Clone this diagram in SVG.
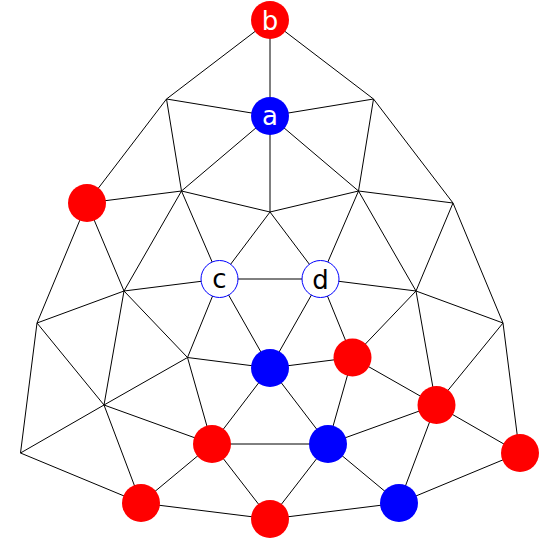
<svg xmlns="http://www.w3.org/2000/svg" width="541" height="541" viewBox="0 0 541 541">
<style>
.e{stroke:#000;stroke-width:1;fill:none}
.r{fill:#ff0000}
.bl{fill:#0000ff}
.w{fill:#fff;stroke:#0000ff;stroke-width:1}
.t{font-family:"DejaVu Sans",sans-serif;font-size:26px;text-anchor:middle}
.tw{fill:#fff}
.tk{fill:#000}
</style>
<rect width="541" height="541" fill="#fff"/>
<g id="connectors" class="e">
<line x1="270" y1="20" x2="166.5" y2="99"/>
<line x1="270" y1="20" x2="270" y2="116"/>
<line x1="270" y1="20" x2="373.5" y2="99"/>
<line x1="166.5" y1="99" x2="270" y2="116"/>
<line x1="166.5" y1="99" x2="181.5" y2="191"/>
<line x1="166.5" y1="99" x2="87" y2="203"/>
<line x1="270" y1="116" x2="373.5" y2="99"/>
<line x1="270" y1="116" x2="181.5" y2="191"/>
<line x1="270" y1="116" x2="270" y2="212"/>
<line x1="270" y1="116" x2="358.5" y2="191"/>
<line x1="373.5" y1="99" x2="358.5" y2="191"/>
<line x1="373.5" y1="99" x2="453" y2="203"/>
<line x1="87" y1="203" x2="181.5" y2="191"/>
<line x1="181.5" y1="191" x2="270" y2="212"/>
<line x1="181.5" y1="191" x2="124" y2="291"/>
<line x1="181.5" y1="191" x2="219.5" y2="279"/>
<line x1="87" y1="203" x2="37" y2="323"/>
<line x1="87" y1="203" x2="124" y2="291"/>
<line x1="270" y1="212" x2="219.5" y2="279"/>
<line x1="270" y1="212" x2="320.5" y2="279"/>
<line x1="270" y1="212" x2="358.5" y2="191"/>
<line x1="358.5" y1="191" x2="320.5" y2="279"/>
<line x1="358.5" y1="191" x2="416" y2="291"/>
<line x1="358.5" y1="191" x2="453" y2="203"/>
<line x1="453" y1="203" x2="416" y2="291"/>
<line x1="453" y1="203" x2="503" y2="323"/>
<line x1="219.5" y1="279" x2="124" y2="291"/>
<line x1="219.5" y1="279" x2="320.5" y2="279"/>
<line x1="219.5" y1="279" x2="187.5" y2="357.5"/>
<line x1="219.5" y1="279" x2="270" y2="368"/>
<line x1="124" y1="291" x2="37" y2="323"/>
<line x1="124" y1="291" x2="104" y2="405"/>
<line x1="124" y1="291" x2="187.5" y2="357.5"/>
<line x1="37" y1="323" x2="104" y2="405"/>
<line x1="37" y1="323" x2="20.5" y2="453"/>
<line x1="187.5" y1="357.5" x2="104" y2="405"/>
<line x1="187.5" y1="357.5" x2="270" y2="368"/>
<line x1="187.5" y1="357.5" x2="212" y2="444"/>
<line x1="104" y1="405" x2="20.5" y2="453"/>
<line x1="104" y1="405" x2="212" y2="444"/>
<line x1="104" y1="405" x2="141" y2="503"/>
<line x1="20.5" y1="453" x2="141" y2="503"/>
<line x1="212" y1="444" x2="270" y2="368"/>
<line x1="212" y1="444" x2="328" y2="444"/>
<line x1="212" y1="444" x2="141" y2="503"/>
<line x1="212" y1="444" x2="270" y2="519"/>
<line x1="141" y1="503" x2="270" y2="519"/>
<line x1="320.5" y1="279" x2="416" y2="291"/>
<line x1="320.5" y1="279" x2="270" y2="368"/>
<line x1="320.5" y1="279" x2="352.5" y2="357.5"/>
<line x1="416" y1="291" x2="352.5" y2="357.5"/>
<line x1="416" y1="291" x2="503" y2="323"/>
<line x1="416" y1="291" x2="436" y2="405"/>
<line x1="503" y1="323" x2="436" y2="405"/>
<line x1="503" y1="323" x2="519.5" y2="453"/>
<line x1="270" y1="368" x2="352.5" y2="357.5"/>
<line x1="270" y1="368" x2="328" y2="444"/>
<line x1="352.5" y1="357.5" x2="328" y2="444"/>
<line x1="352.5" y1="357.5" x2="436" y2="405"/>
<line x1="328" y1="444" x2="436" y2="405"/>
<line x1="328" y1="444" x2="399" y2="503"/>
<line x1="328" y1="444" x2="270" y2="519"/>
<line x1="436" y1="405" x2="399" y2="503"/>
<line x1="436" y1="405" x2="519.5" y2="453"/>
<line x1="399" y1="503" x2="519.5" y2="453"/>
<line x1="270" y1="519" x2="399" y2="503"/>
</g>
<g id="node-b"><circle class="r" cx="270" cy="20" r="19"/><text class="t tw" x="270" y="30">b</text></g>
<g id="node-a"><circle class="bl" cx="270" cy="116" r="19"/><text class="t tw" x="270" y="125">a</text></g>
<g id="node-c"><circle class="w" cx="219.5" cy="279" r="18.5"/><text class="t tk" x="219.5" y="288">c</text></g>
<g id="node-d"><circle class="w" cx="320.5" cy="279" r="18.5"/><text class="t tk" x="320.5" y="289">d</text></g>
<g id="node-r1"><circle class="r" cx="87" cy="203" r="19"/></g>
<g id="node-blue1"><circle class="bl" cx="270" cy="368" r="19"/></g>
<g id="node-r2"><circle class="r" cx="352.5" cy="357.5" r="19"/></g>
<g id="node-r3"><circle class="r" cx="212" cy="444" r="19"/></g>
<g id="node-blue2"><circle class="bl" cx="328" cy="444" r="19"/></g>
<g id="node-r4"><circle class="r" cx="436.5" cy="405" r="19"/></g>
<g id="node-r5"><circle class="r" cx="141" cy="503" r="19"/></g>
<g id="node-r6"><circle class="r" cx="270" cy="519" r="19"/></g>
<g id="node-blue3"><circle class="bl" cx="399" cy="503" r="19"/></g>
<g id="node-r7"><circle class="r" cx="520" cy="453" r="19"/></g>
</svg>
